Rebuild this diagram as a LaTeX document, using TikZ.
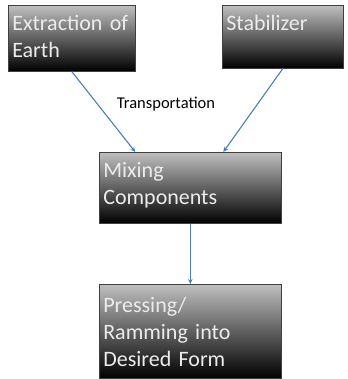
\documentclass[tikz,border=0pt]{standalone}
\usepackage{fontspec}
\setmainfont{Carlito}
\usetikzlibrary{arrows.meta}
\definecolor{flowblue}{RGB}{74,126,187}
\definecolor{boxtext}{RGB}{236,236,236}
\begin{document}
\begin{tikzpicture}[x=1pt,y=-1pt,
    stepbox/.style={draw=black!75, line width=0.6pt, rectangle, anchor=north west,
      top color=black!25, middle color=black!45, bottom color=black,
      text=boxtext, align=left, inner xsep=4pt, inner ysep=5pt,
      font=\fontsize{22}{27}\selectfont},
    flow/.style={draw=flowblue, line width=1.1pt, -{Stealth[length=5pt,width=4.5pt]}}]
    \useasboundingbox (0,0) rectangle (347,379);
    \node[stepbox, text width=119pt, text height=20pt, text depth=36pt] (earth) at (8,5) {Extraction of\\Earth};
    \node[stepbox, text width=113pt, text height=20pt, text depth=33pt] (stab) at (222,5) {Stabilizer};
    \node[stepbox, text width=174pt, text height=20pt, text depth=41pt] (mix) at (99,152) {Mixing\\Components};
    \node[stepbox, text width=174pt, text height=23pt, text depth=61pt] (press) at (99,284) {Pressing/\\Ramming into\\Desired Form};
    \node[font=\fontsize{16.5}{20}\selectfont] (transp) at (166,104) {Transportation};
    \draw[flow] (earth.south) -- ([xshift=-55pt]mix.north);
    \draw[flow] (stab.south) -- ([xshift=33pt]mix.north);
    \draw[flow] (mix.south) -- (press.north);
  \end{tikzpicture}
\end{document}
